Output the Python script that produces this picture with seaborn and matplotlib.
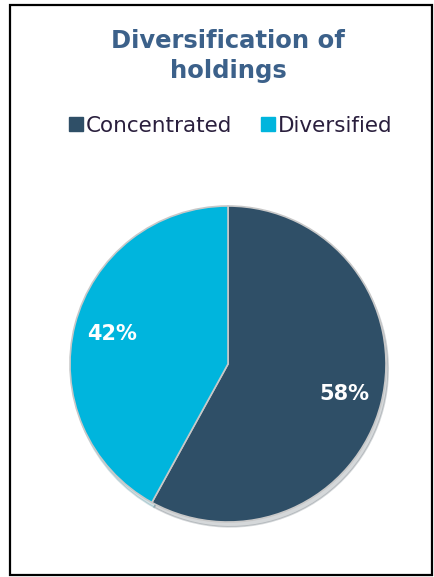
import matplotlib
matplotlib.use("Agg")
import matplotlib.pyplot as plt
import seaborn as sns
from matplotlib.patches import Rectangle
from matplotlib.lines import Line2D

categories = ["Concentrated", "Diversified"]
values = [58, 42]
colors = ["#2F4F67", "#00B5DD"]
title = "Diversification of\nholdings"

sns.set_theme(style="white")
plt.rcParams['font.family'] = ['DejaVu Sans']

fig = plt.figure(figsize=(4.35, 5.77), dpi=100)
fig.patch.set_facecolor("white")

# border frame
fig.patches.append(Rectangle((10/435, 2/577), 422/435, 570/577, transform=fig.transFigure,
                             fill=False, edgecolor="black", linewidth=1.6))

r = 158
cx, cy = 228, 364
ax = fig.add_axes([(cx - r) / 435, (577 - cy - r) / 577, 2 * r / 435, 2 * r / 577])
wedges, texts, autotexts = ax.pie(
    values, colors=colors, startangle=90, counterclock=False,
    autopct=lambda p: f"{p:.0f}%", pctdistance=0.76,
    wedgeprops=dict(edgecolor="#C8C8C8", linewidth=1.2),
    shadow=dict(ox=0.01, oy=-0.022, shade=0.5, alpha=0.18),
    textprops=dict(color="white", fontsize=15, fontweight="bold"))
ax.set_aspect("equal")
ax.set_xlim(-1, 1)
ax.set_ylim(-1, 1)
ax.axis("off")

fig.text(228 / 435, 1 - 56 / 577, title, ha="center", va="center",
         fontsize=17.5, fontweight="bold", color="#3C618A", linespacing=1.35)

handles = [Line2D([0], [0], marker="s", linestyle="none", markersize=10,
                  markerfacecolor=c, markeredgecolor=c) for c in colors]
fig.legend(handles, categories, loc="center", bbox_to_anchor=(230 / 435, 1 - 126 / 577),
           ncol=2, frameon=False, fontsize=15.5, handletextpad=0.05, columnspacing=1.3,
           labelcolor="#2A1F3D", handlelength=0.8)

fig.savefig("out.png", dpi=100, facecolor="white")
